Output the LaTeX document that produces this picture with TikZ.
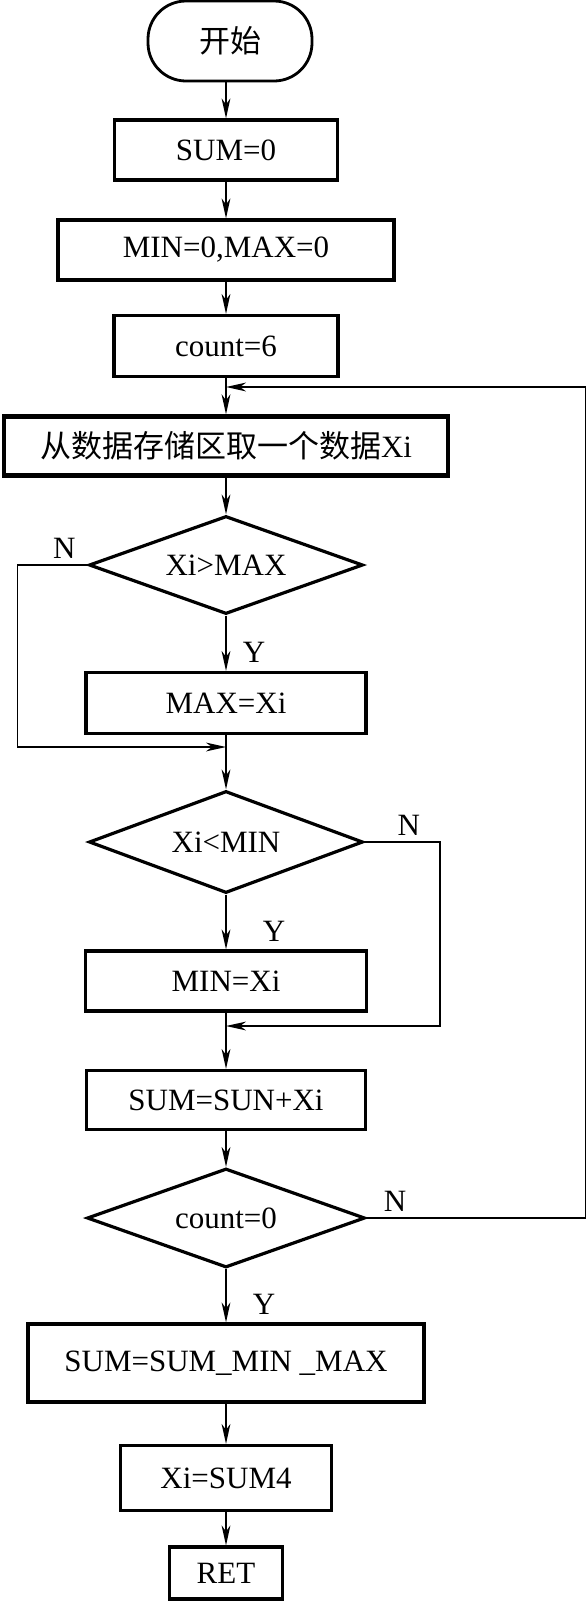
\documentclass[tikz,border=0pt]{standalone}
\usepackage{fontspec}
\setmainfont{Liberation Serif}
\newfontfamily\cjk{Noto Sans CJK SC}
\usetikzlibrary{arrows.meta, shapes.geometric}

\begin{document}
\begin{tikzpicture}[x=0.5pt, y=-0.5pt, font=\fontsize{15.5}{18}\selectfont,
    box/.style={draw, line width=1.6pt, minimum height=30pt, inner sep=0pt},
    cond/.style={draw, diamond, aspect=2.8, line width=1.6pt, minimum width=137pt, minimum height=49pt, inner sep=0pt},
    flow/.style={line width=0.9pt, -{Stealth[length=10pt, width=4.4pt, inset=3pt]}},
    ylab/.style={pos=0.67, right=8pt, inner sep=0pt}, nlab/.style={above=3pt, inner sep=0pt}]
  \useasboundingbox (0,0) rectangle (585,1601);
  \node[draw, line width=1.4pt, rounded corners=19pt, minimum width=82pt, minimum height=40pt] (start) at (230,41) {\cjk 开始};
  \node[box, minimum width=111.5pt] (sum0) at (226,150) {SUM=0};
  \node[box, minimum width=168pt] (init) at (226,250) {MIN=0,MAX=0};
  \node[box, minimum width=112pt, minimum height=30.5pt] (cnt) at (226,346) {count=6};
  \node[box, line width=2.2pt, minimum width=222pt, minimum height=29.5pt] (fetch) at (226,446) {\cjk 从数据存储区取一个数据\rmfamily Xi};
  \node[cond] (qmax) at (226,565) {Xi>MAX};
  \node[box, minimum width=140pt, minimum height=30.5pt] (setmax) at (226,703) {MAX=Xi};
  \node[cond, minimum height=51pt] (qmin) at (226,842) {Xi<MIN};
  \node[box, minimum width=140.5pt] (setmin) at (226,981) {MIN=Xi};
  \node[box, minimum width=139.5pt, minimum height=29.5pt] (add) at (226,1100) {SUM=SUN+Xi};
  \node[cond, minimum width=139pt, minimum height=49.5pt] (qcnt) at (226,1218) {count=0};
  \node[box, minimum width=198pt, minimum height=39pt] (sumfin) at (226,1363) {SUM=SUM\_MIN \_MAX};
  \node[box, minimum width=105.5pt, minimum height=32.5pt] (avg) at (226,1478) {Xi=SUM4};
  \node[box, minimum width=56.5pt, minimum height=26pt] (ret) at (226,1573) {RET};
  \coordinate (j0) at (226,387);
  \coordinate (j1) at (226,747);
  \coordinate (j2) at (226,1026);

  \draw[flow] (sum0.north |- start.south) -- (sum0);
  \draw[flow] (sum0) -- (init);
  \draw[flow] (init) -- (cnt);
  \draw[flow] (cnt) -- (fetch);
  \draw[flow] (fetch) -- (qmax);
  \draw[flow] (qmax) -- node[ylab] (y1) {Y} (setmax);
  \draw[flow] (qmax.west) -- node[nlab, pos=0.33] (n1) {N} ++(-70,0) |- (j1);
  \draw[flow] (setmax) -- (qmin);
  \draw[flow] (qmin) -- node[ylab, right=10pt] (y2) {Y} (setmin);
  \draw[flow] (qmin.east) -- node[nlab, pos=0.59] (n2) {N} ++(75,0) |- (j2);
  \draw[flow] (setmin) -- (add);
  \draw[flow] (add) -- (qcnt);
  \draw[flow] (qcnt) -- node[ylab, right=5pt] (y3) {Y} (sumfin);
  \draw[flow] (qcnt.east) -- node[nlab, pos=0.13] (n3) {N} ++(219,0) |- (j0);
  \draw[flow] (sumfin) -- (avg);
  \draw[flow] (avg) -- (ret);
\end{tikzpicture}
\end{document}
